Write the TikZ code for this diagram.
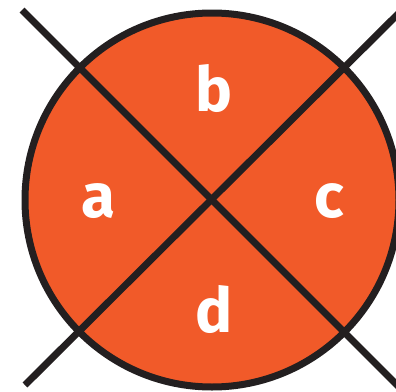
\documentclass[tikz,border=0pt]{standalone}
\usepackage{fontspec}
\setmainfont{Fira Sans}
\usepackage{xcolor}
\usepackage{tikz}
\usetikzlibrary{positioning}

\definecolor{segorange}{HTML}{F15A29}
\definecolor{rimdark}{HTML}{231F20}

\begin{document}
\begin{tikzpicture}[
  x=1pt, y=-1pt,
  rim/.style={draw=rimdark, line width=7pt},
  sector/.style={text=white, font=\bfseries\fontsize{62}{62}\selectfont, anchor=base, inner sep=0pt}
]
\useasboundingbox (0,0) rectangle (396,391);
\node[circle, fill=segorange, rim, minimum size=374pt, inner sep=0pt] (disc) at (212,200) {};
\coordinate (tl) at (22,10);
\coordinate (br) at (402,390);
\coordinate (bl) at (25,385);
\coordinate (tr) at (402,10);
\draw[rim] (tl) -- (br);
\draw[rim] (bl) -- (tr);
\node[sector] (a) at (98,217) {a};
\node[sector] (b) at (214,111) {b};
\node[sector] (c) at (329,217) {c};
\node[sector] (d) at (214,332) {d};
\end{tikzpicture}
\end{document}
